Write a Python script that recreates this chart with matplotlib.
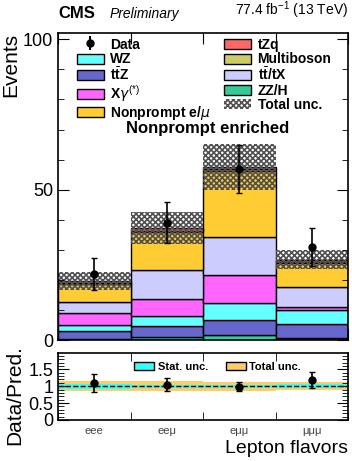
import numpy as np
import matplotlib.pyplot as plt
from matplotlib.patches import Patch, Rectangle
from matplotlib.legend_handler import HandlerPatch
from matplotlib.ticker import MultipleLocator

plt.rcParams['font.family'] = ['Liberation Sans', 'DejaVu Sans']
plt.rcParams['hatch.linewidth'] = 1.2
plt.rcParams['mathtext.fontset'] = 'custom'
plt.rcParams['mathtext.rm'] = 'Liberation Sans'
plt.rcParams['mathtext.bf'] = 'Liberation Sans:bold'

bins = ['eee', 'ee\u03bc', 'e\u03bc\u03bc', '\u03bc\u03bc\u03bc']

# stacked backgrounds, bottom to top
zzh = [0.5, 1.0, 1.6, 0.7]
ttz = [2.5, 3.8, 5.2, 4.7]
wz = [2.2, 3.2, 5.6, 4.7]
xgamma = [3.9, 5.8, 9.3, 1.1]
ttx = [3.7, 9.4, 12.7, 6.4]
nonprompt = [6.0, 12.8, 21.9, 7.9]
multiboson = [0.3, 0.4, 0.5, 0.4]
tzq = [0.7, 0.8, 0.8, 0.8]
tot_unc = [3.0, 5.3, 7.7, 3.2]

data = [22.0, 39.0, 56.9, 31.1]
data_err = [5.2, 6.8, 8.1, 6.3]

ratio = [1.10, 1.05, 0.99, 1.19]
ratio_err = [0.27, 0.18, 0.14, 0.24]
stat_unc = [0.07, 0.05, 0.04, 0.06]
syst_unc = [0.15, 0.14, 0.13, 0.12]

samples = [
    ('ZZ/H', zzh, '#33cc99'),
    (r't$\bar{\rm t}$Z', ttz, '#6666cc'),
    ('WZ', wz, '#66ffff'),
    (r'X$\gamma^{(*)}$', xgamma, '#ff66ff'),
    (r't$\bar{\rm t}$/tX', ttx, '#ccccff'),
    (r'Nonprompt e/$\mu$', nonprompt, '#ffcc33'),
    ('Multiboson', multiboson, '#cccc66'),
    ('tZq', tzq, '#ff6666'),
]


def small_box(legend, orig_handle, xdescent, ydescent, width, height, fontsize):
    # legend boxes a bit shorter than the row height
    h = 0.72 * fontsize
    return Rectangle((-xdescent, -ydescent + (height - h) / 2), width, h)


x = np.arange(len(bins))
edges = np.arange(len(bins) + 1) - 0.5

fig = plt.figure(figsize=(3.52, 4.61), dpi=100)
ax = fig.add_axes([0.165, 0.262, 0.824, 0.666])
rax = fig.add_axes([0.165, 0.089, 0.824, 0.145])

bottom = np.zeros(len(bins))
colors = {}
for name, vals, col in samples:
    vals = np.array(vals)
    ax.bar(x, vals, width=1.0, bottom=bottom, color=col, edgecolor='black', linewidth=1.0)
    colors[name] = col
    bottom += vals
total = bottom

ax.bar(x, 2 * np.array(tot_unc), width=1.0, bottom=total - np.array(tot_unc),
       facecolor='none', edgecolor='#505050', hatch='xxxxxx', linewidth=0)
ax.errorbar(x, data, yerr=data_err, fmt='o', color='black', ms=5, elinewidth=1.2,
            capsize=2, capthick=1)

ax.set_xlim(-0.5, 3.5)
ax.set_ylim(0, 102)
ax.set_xticks(edges)
ax.set_xticklabels([])
ax.yaxis.set_major_locator(MultipleLocator(50))
ax.yaxis.set_minor_locator(MultipleLocator(10))
ax.tick_params(axis='both', which='both', direction='in', top=True, right=True, labelsize=13)
ax.tick_params(axis='y', which='major', length=8)
ax.tick_params(axis='y', which='minor', length=4)
ax.tick_params(axis='x', which='major', length=8)
ax.set_ylabel('Events', fontsize=15, loc='top', labelpad=2)
ax.text(0.515, 0.675, 'Nonprompt enriched', transform=ax.transAxes, ha='center',
        fontsize=12, fontweight='bold')

fig.text(0.165, 0.955, 'CMS', fontsize=12, fontweight='bold', va='bottom')
fig.text(0.31, 0.955, 'Preliminary', fontsize=10, style='italic', va='bottom')
fig.text(0.99, 0.955, r'77.4 fb$^{-1}$ (13 TeV)', fontsize=10, ha='right', va='bottom')

data_h = ax.errorbar([], [], yerr=[], fmt='o', color='black', ms=5)
leg_handles = [data_h]
leg_labels = ['Data']
for name in ['WZ', r't$\bar{\rm t}$Z', r'X$\gamma^{(*)}$', r'Nonprompt e/$\mu$',
             'tZq', 'Multiboson', r't$\bar{\rm t}$/tX', 'ZZ/H']:
    leg_handles.append(Patch(facecolor=colors[name], edgecolor='black', linewidth=1))
    leg_labels.append(name)
leg_handles.append(Patch(facecolor='white', edgecolor='#505050', hatch='xxxxxx', linewidth=0))
leg_labels.append('Total unc.')
leg_labels = [l.replace(r'$\bar{\rm t}$', r'$\bar{\mathbf{t}}$') for l in leg_labels]
ax.legend(leg_handles, leg_labels, ncol=2, loc='upper left', bbox_to_anchor=(0.04, 1.01),
          frameon=False, prop={'weight': 'bold', 'size': 10},
          handler_map={Patch: HandlerPatch(patch_func=small_box)},
          handlelength=1.95, handleheight=1.15, labelspacing=0.0, columnspacing=1.0,
          handletextpad=0.45, borderaxespad=0.1)

# ratio panel
rax.bar(x, 2 * np.array(syst_unc), width=1.0, bottom=1 - np.array(syst_unc),
        color='#ffcc66', linewidth=0)
rax.bar(x, 2 * np.array(stat_unc), width=1.0, bottom=1 - np.array(stat_unc),
        color='#33ffff', linewidth=0)
rax.axhline(1, color='black', ls='--', lw=1)
rax.errorbar(x, ratio, yerr=ratio_err, fmt='o', color='black', ms=5, elinewidth=1.2,
             capsize=2, capthick=1)
rax.set_xlim(-0.5, 3.5)
rax.set_ylim(0, 1.98)
rax.set_xticks(x)
rax.set_xticklabels(bins, fontsize=8, color='#444444')
rax.set_xticks(edges, minor=True)
rax.tick_params(axis='x', which='major', length=0, pad=4)
rax.tick_params(axis='x', which='minor', direction='in', length=6, top=True)
rax.set_yticks([0, 0.5, 1, 1.5])
rax.set_yticklabels(['0', '0.5', '1', '1.5'])
rax.yaxis.set_minor_locator(MultipleLocator(0.1))
rax.tick_params(axis='y', which='both', direction='in', right=True, labelsize=13)
rax.tick_params(axis='y', which='major', length=8)
rax.tick_params(axis='y', which='minor', length=4)
rax.set_ylabel('Data/Pred.', fontsize=15)
rax.yaxis.set_label_coords(-0.115, 0.38)
rax.set_xlabel('Lepton flavors', fontsize=14, loc='right', labelpad=3)
rax.legend([Patch(facecolor='#33ffff', edgecolor='black'), Patch(facecolor='#ffcc66', edgecolor='black')],
           ['Stat. unc.', 'Total unc.'], ncol=2, loc='upper center', bbox_to_anchor=(0.55, 1.02),
           frameon=False, prop={'weight': 'bold', 'size': 8}, handlelength=1.8,
           columnspacing=1.6, handletextpad=0.3)

for a in (ax, rax):
    for s in a.spines.values():
        s.set_linewidth(1.2)

fig.savefig('out.png', dpi=100)
